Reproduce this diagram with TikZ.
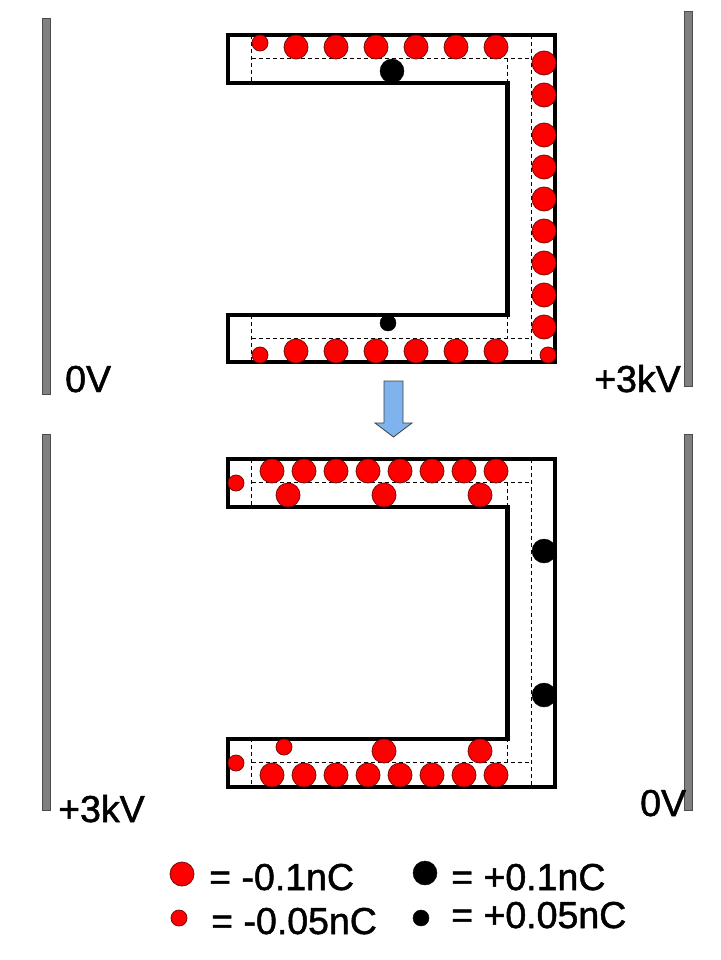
\documentclass[tikz,border=0pt]{standalone}
\usepackage{fontspec}
\setmainfont{Liberation Sans}
\newfontfamily\lblfont[FakeBold=1.3]{Liberation Sans}
\definecolor{platefill}{HTML}{808080}
\definecolor{arrowfill}{HTML}{7FB3EE}
\definecolor{chargered}{HTML}{FF0000}
\definecolor{chargeedge}{HTML}{7A0A0A}
\tikzset{
  x=1pt,y=-1pt,
  plate/.style={draw=black!70,fill=platefill,line width=0.8pt},
  wall/.style={draw=black,line width=4.8pt,line join=miter},
  guide/.style={draw=black,line width=0.8pt,dash pattern=on 4pt off 3pt},
  bigneg/.style={circle,draw=chargeedge,fill=chargered,line width=0.8pt,minimum size=24pt,inner sep=0pt},
  smallneg/.style={circle,draw=chargeedge,fill=chargered,line width=0.8pt,minimum size=16pt,inner sep=0pt},
  bigpos/.style={circle,draw=black,fill=black,minimum size=24pt,inner sep=0pt},
  smallpos/.style={circle,draw=black,fill=black,minimum size=16pt,inner sep=0pt},
  lbl/.style={anchor=base west,inner sep=0pt,font=\lblfont\fontsize{37.5}{37.5}\selectfont,text=black}
}
\begin{document}
\begin{tikzpicture}
\useasboundingbox (0,0) rectangle (720,960);
\fill[white] (0,0) rectangle (720,960);
% plates
\draw[plate] (42,18) rectangle (50,394);
\draw[plate] (684,11) rectangle (692,386);
\draw[plate] (42,434) rectangle (50,810);
\draw[plate] (684,434) rectangle (692,810);
% guides, upper
\draw[guide] (251.5,35) -- (251.5,82);
\draw[guide] (251.5,58) -- (531.5,58);
\draw[guide] (507.5,58) -- (507.5,83);
\draw[guide] (531.5,35) -- (531.5,362);
\draw[guide] (251.5,315) -- (251.5,362);
\draw[guide] (251.5,338) -- (531.5,338);
\draw[guide] (507.5,315) -- (507.5,338);
% guides, lower
\draw[guide] (251.5,459) -- (251.5,507);
\draw[guide] (251.5,482) -- (531.5,482);
\draw[guide] (507.5,482) -- (507.5,507);
\draw[guide] (531.5,459) -- (531.5,787);
\draw[guide] (251.5,738) -- (251.5,787);
\draw[guide] (251.5,762) -- (531.5,762);
\draw[guide] (507.5,738) -- (507.5,762);
% walls
\draw[wall] (228,35) -- (555,35) -- (555,362) -- (228,362) -- (228,315) -- (507.5,315) -- (507.5,83) -- (228,83) -- cycle;
\draw[wall] (228,459) -- (555,459) -- (555,787) -- (228,787) -- (228,739) -- (507.5,739) -- (507.5,507) -- (228,507) -- cycle;
% charges, upper
\foreach \cx in {296,336,376,416,456,496} {
  \node[bigneg] at (\cx,47) {};
  \node[bigneg] at (\cx,351) {};
}
\foreach \cy in {63,95,135,167,199,231,263,295,327}
  \node[bigneg] at (544,\cy) {};
\node[smallneg] at (260,43) {};
\node[smallneg] at (260,355) {};
\node[smallneg] at (548,355) {};
\node[bigpos] at (392,71) {};
\node[smallpos] at (388,323) {};
% charges, lower
\foreach \cx in {272,304,336,368,400,432,464,496} {
  \node[bigneg] at (\cx,471) {};
  \node[bigneg] at (\cx,775) {};
}
\foreach \cx in {288,384,480}
  \node[bigneg] at (\cx,495) {};
\node[bigneg] at (384,751) {};
\node[bigneg] at (480,751) {};
\node[smallneg] at (236,483) {};
\node[smallneg] at (236,763) {};
\node[smallneg] at (284,747) {};
\node[bigpos] at (544,551) {};
\node[bigpos] at (544,695) {};
% arrow
\draw[draw=black!75,fill=arrowfill,line width=0.8pt,line join=miter]
  (384,381) -- (403,381) -- (403,423) -- (412,423) -- (393.5,437) -- (375,423) -- (384,423) -- cycle;
% voltages
\node[lbl] (vtl) at (65,392) {0V};
\node[lbl] (vtr) at (594,392) {+3kV};
\node[lbl] (vbl) at (58,822) {+3kV};
\node[lbl] (vbr) at (640,816) {0V};
% legend
\node[bigneg] (k1) at (182,874) {};
\node[smallneg] (k2) at (179,918) {};
\node[bigpos] (k3) at (425,873) {};
\node[smallpos] (k4) at (421,918) {};
\node[lbl] (t1) at (209,890) {= -0.1nC};
\node[lbl] (t2) at (211,934) {= -0.05nC};
\node[lbl] (t3) at (451,890) {= +0.1nC};
\node[lbl] (t4) at (451,928) {= +0.05nC};
\end{tikzpicture}
\end{document}
